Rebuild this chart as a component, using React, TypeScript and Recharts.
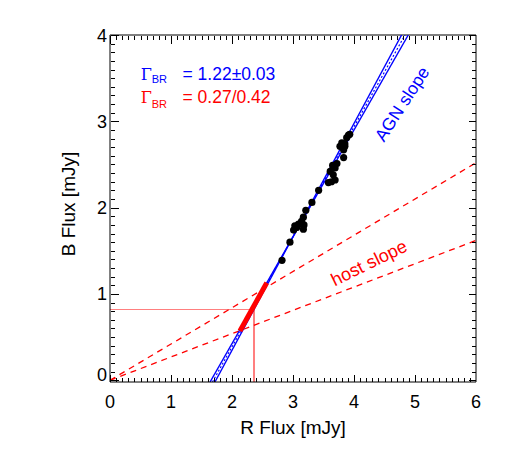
import React from "react";
import { ComposedChart, Line, Scatter, XAxis, YAxis, ReferenceLine, Customized } from "recharts";

// ---- data ----
const fluxPoints = [
  { x: 2.82, y: 1.39 }, { x: 2.95, y: 1.6 }, { x: 3.03, y: 1.79 }, { x: 3.09, y: 1.81 },
  { x: 3.01, y: 1.74 }, { x: 3.17, y: 1.75 }, { x: 3.18, y: 1.8 }, { x: 3.14, y: 1.84 },
  { x: 3.06, y: 1.77 }, { x: 3.17, y: 1.89 }, { x: 3.21, y: 1.97 }, { x: 3.31, y: 2.06 },
  { x: 3.42, y: 2.2 }, { x: 3.58, y: 2.29 }, { x: 3.63, y: 2.3 }, { x: 3.69, y: 2.32 },
  { x: 3.66, y: 2.38 }, { x: 3.66, y: 2.46 }, { x: 3.61, y: 2.42 }, { x: 3.65, y: 2.49 },
  { x: 3.72, y: 2.51 }, { x: 3.69, y: 2.46 }, { x: 3.83, y: 2.58 }, { x: 3.77, y: 2.71 },
  { x: 3.8, y: 2.75 }, { x: 3.85, y: 2.74 }, { x: 3.88, y: 2.81 }, { x: 3.91, y: 2.84 },
  { x: 3.93, y: 2.85 }, { x: 3.83, y: 2.67 }, { x: 3.85, y: 2.71 },
];
const agnLineA = [{ x: 1.64, y: -0.02 }, { x: 4.89, y: 4.0 }];
const agnLineB = [{ x: 1.72, y: -0.02 }, { x: 4.78, y: 4.0 }];
const agnLineC = [{ x: 1.68, y: -0.02 }, { x: 4.835, y: 4.0 }];
const hostSteep = [{ x: 0, y: 0 }, { x: 6, y: 2.52 }];
const hostShallow = [{ x: 0, y: 0 }, { x: 6, y: 1.62 }];
const hostSegment = [{ x: 2.13, y: 0.57 }, { x: 2.57, y: 1.13 }];
const hostHoriz = [{ x: 0, y: 0.82 }, { x: 2.36, y: 0.82 }];
const hostVert = [{ x: 2.36, y: -0.02 }, { x: 2.36, y: 0.82 }];
const xDomain = [0, 6];
const yDomain = [-0.02, 4];
const xMajorTicks = [0, 1, 2, 3, 4, 5, 6];
const yMajorTicks = [0, 1, 2, 3, 4];
const xMinorTicks = Array.from({ length: 61 }, (_, i) => i / 10);
const yMinorTicks = Array.from({ length: 41 }, (_, i) => i / 10);

// tick-mark anchors on the four frame edges (axis decoration, placed through the scales)
const xTickMarks = xMinorTicks.flatMap((v) => [
  { x: v, y: yDomain[0], dir: "up" },
  { x: v, y: yDomain[1], dir: "down" },
]);
const yTickMarks = yMinorTicks.flatMap((v) => [
  { x: xDomain[0], y: v, dir: "right" },
  { x: xDomain[1], y: v, dir: "left" },
]);

const FONT = "'Liberation Sans', Arial, Helvetica, sans-serif";
const BLUE = "#0000ff";
const RED = "#ff0000";
const PINK = "#ff7f7f";

const isMajor = (v: number) => Math.abs(v - Math.round(v)) < 1e-6;

const BottomLabel = (p: any) => (
  <text x={p.x} y={p.y + 26} textAnchor="middle" fontSize={18} fontFamily={FONT} fill="#000">
    {p.payload.value}
  </text>
);
const LeftLabel = (p: any) => (
  <text x={p.x - 3} y={p.y + 6.5 - (p.payload.value === 0 ? 6 : 0)} textAnchor="end" fontSize={18} fontFamily={FONT} fill="#000">
    {p.payload.value}
  </text>
);

const TickMark = (p: any) => {
  const d = p.payload.dir;
  const v = d === "up" || d === "down" ? p.payload.x : p.payload.y;
  const len = isMajor(v) ? 8 : 4.5;
  const cx = Math.round(p.cx) + 0.5;
  const cy = Math.round(p.cy) + 0.5;
  let path = "";
  if (d === "up") path = `M${cx},${cy}L${cx},${cy - len}`;
  else if (d === "down") path = `M${cx},${cy}L${cx},${cy + len}`;
  else if (d === "right") path = `M${cx},${cy}L${cx + len},${cy}`;
  else path = `M${cx},${cy}L${cx - len},${cy}`;
  return <path d={path} stroke="#000" strokeWidth={1.1} fill="none" shapeRendering="crispEdges" />;
};

const Annotations = () => (
  <g>
    <text x={132.7} y={72} fontSize={16} fontFamily="'DejaVu Serif', 'Liberation Serif', serif" fill={BLUE}>Γ</text>
    <text x={143.7} y={75} fontSize={11} fontFamily={FONT} fill={BLUE}>BR</text>
    <text x={174.5} y={72} fontSize={17.5} fontFamily={FONT} fill={BLUE}>= 1.22±0.03</text>
    <text x={132.7} y={95} fontSize={16} fontFamily="'DejaVu Serif', 'Liberation Serif', serif" fill={RED}>Γ</text>
    <text x={143.7} y={100} fontSize={11} fontFamily={FONT} fill={RED}>BR</text>
    <text x={174.5} y={95} fontSize={17.5} fontFamily={FONT} fill={RED}>= 0.27/0.42</text>
    <text x={394} y={96} transform="rotate(-57 394 96)" textAnchor="middle" dominantBaseline="central" fontSize={17.5} fontFamily={FONT} fill={BLUE}>AGN slope</text>
    <text x={361} y={255} transform="rotate(-26 361 255)" textAnchor="middle" dominantBaseline="central" fontSize={18} fontFamily={FONT} fill={RED}>host slope</text>
    <text x={285} y={426} textAnchor="middle" fontSize={19} fontFamily={FONT} fill="#000">R Flux [mJy]</text>
    <text x={67} y={196} transform="rotate(-90 67 196)" textAnchor="middle" fontSize={19} fontFamily={FONT} fill="#000">B Flux [mJy]</text>
  </g>
);

export default function App() {
  return (
    <ComposedChart width={510} height={453} margin={{ top: 27, right: 42, bottom: 49, left: 42 }}>
      <XAxis dataKey="x" type="number" domain={xDomain} allowDataOverflow ticks={xMajorTicks} interval={0}
        tickSize={0} tickMargin={0} tickLine={false} tick={BottomLabel} axisLine={{ stroke: "#000" }} height={30} />
      <YAxis dataKey="y" type="number" domain={yDomain} allowDataOverflow ticks={yMajorTicks} interval={0}
        tickSize={0} tickMargin={0} tickLine={false} tick={LeftLabel} axisLine={{ stroke: "#000" }} width={60} />

      {/* frame: top and right edges */}
      <ReferenceLine y={4} stroke="#000" strokeWidth={1} />
      <ReferenceLine x={6} stroke="#000" strokeWidth={1} />

      <Line data={hostHoriz} dataKey="y" stroke={PINK} strokeWidth={1.3} shapeRendering="crispEdges" dot={false} isAnimationActive={false} />
      <Line data={hostVert} dataKey="y" stroke={PINK} strokeWidth={1.3} shapeRendering="crispEdges" dot={false} isAnimationActive={false} />
      <Line data={hostSteep} dataKey="y" stroke={RED} strokeWidth={1.3} strokeDasharray="6 5" dot={false} isAnimationActive={false} />
      <Line data={hostShallow} dataKey="y" stroke={RED} strokeWidth={1.3} strokeDasharray="6 5" dot={false} isAnimationActive={false} />
      <Line data={agnLineA} dataKey="y" stroke={BLUE} strokeWidth={1.4} dot={false} isAnimationActive={false} />
      <Line data={agnLineB} dataKey="y" stroke={BLUE} strokeWidth={1.4} dot={false} isAnimationActive={false} />
      <Line data={agnLineC} dataKey="y" stroke={BLUE} strokeWidth={1.2} strokeDasharray="2 2" dot={false} isAnimationActive={false} />
      <Line data={hostSegment} dataKey="y" stroke={RED} strokeWidth={5} dot={false} isAnimationActive={false} />
      <Scatter data={fluxPoints} dataKey="y" fill="#000" isAnimationActive={false}
        shape={(p: any) => <circle cx={p.cx} cy={p.cy} r={3.6} fill="#000" />} />
      <Scatter data={xTickMarks} dataKey="y" isAnimationActive={false} shape={TickMark} />
      <Scatter data={yTickMarks} dataKey="y" isAnimationActive={false} shape={TickMark} />
      <Customized component={Annotations} />
    </ComposedChart>
  );
}
